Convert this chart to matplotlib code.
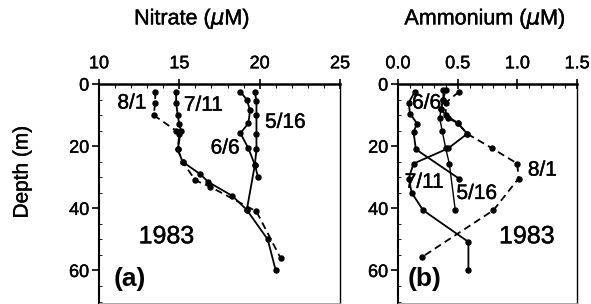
import matplotlib
matplotlib.use("Agg")
import matplotlib.pyplot as plt
import matplotlib.patheffects as pe
from matplotlib.ticker import MultipleLocator

plt.rcParams['font.family'] = ['Liberation Sans', 'DejaVu Sans']
# slight stroke so the text looks like the heavy scanned print
thick = [pe.withStroke(linewidth=0.3, foreground='black')]

# Nitrate profiles (uM) vs depth (m)
no3_516_x = [19.7, 19.8, 19.8, 19.8, 19.8, 19.7, 19.9]
no3_516_d = [2.5, 5.5, 10, 16, 21, 26, 30]
no3_66_x = [18.8, 19.2, 19.4, 19.3, 18.8, 19.3, 19.7, 19.2]
no3_66_d = [2.5, 5, 8.5, 12.6, 15.8, 20.7, 26, 40.5]
no3_711_x = [14.8, 14.8, 14.9, 15.0, 15.1, 14.9, 15.2, 16.3, 16.8, 18.3, 19.2, 20.5, 21.0]
no3_711_d = [2.5, 6, 10, 13, 15, 21, 25, 29, 31.5, 36, 40.5, 50, 60]
no3_81_x = [13.5, 13.5, 13.4, 14.8, 15.0, 14.9, 15.2, 16.0, 16.9, 19.8, 21.3]
no3_81_d = [2.5, 6, 10, 15, 16, 21, 25, 31, 33, 41, 56]

# Ammonium profiles (uM) vs depth (m)
nh4_516_x = [0.40, 0.38, 0.36, 0.35, 0.37, 0.40, 0.43, 0.48]
nh4_516_d = [2, 5, 8, 11, 15, 20.7, 25.6, 40.6]
nh4_66_x = [0.14, 0.09, 0.10, 0.16, 0.13, 0.15, 0.51]
nh4_66_d = [2.5, 6, 9.5, 12.7, 15.4, 21, 30.4]
nh4_711_x = [0.38, 0.38, 0.36, 0.42, 0.50, 0.58, 0.42, 0.13, 0.09, 0.115, 0.21, 0.59, 0.59]
nh4_711_d = [2, 5, 8, 11, 12.5, 16, 20.7, 25.6, 30.4, 35, 40.6, 50.8, 60]
nh4_81_x = [0.51, 0.40, 0.40, 0.50, 0.58, 0.79, 1.00, 1.01, 0.80, 0.20]
nh4_81_d = [2.5, 6, 10, 12.5, 16, 20.7, 25.6, 30.4, 40.6, 55.7]

fig = plt.figure(figsize=(5.91, 3.04), dpi=100)
ax1 = fig.add_axes([99 / 591, 0.003, 241 / 591, 219 / 304])
ax2 = fig.add_axes([398 / 591, 0.003, 179 / 591, 219 / 304])

line_kw = dict(color='black', lw=1.3, marker='o', ms=3.6)


def style(ax, xlim, major, minor):
    ax.set_xlim(*xlim)
    ax.set_ylim(70.5, 0)
    ax.xaxis.set_major_locator(MultipleLocator(major))
    ax.xaxis.set_minor_locator(MultipleLocator(minor))
    ax.yaxis.set_major_locator(MultipleLocator(20))
    ax.yaxis.set_minor_locator(MultipleLocator(5))
    ax.xaxis.tick_top()
    ax.tick_params(axis='x', which='major', direction='inout', length=7, width=1.2,
                   labelsize=13, pad=5)
    ax.tick_params(axis='x', which='minor', direction='in', length=3, width=0.8)
    ax.tick_params(axis='y', which='major', direction='out', length=5, width=1.2,
                   labelsize=13, pad=2)
    ax.tick_params(axis='y', which='minor', direction='in', length=2, width=0.6)
    for t in ax.get_xticklabels() + ax.get_yticklabels():
        t.set_path_effects(thick)
    ax.spines['top'].set_linewidth(1.8)
    ax.spines['left'].set_linewidth(1.5)
    ax.spines['right'].set_linewidth(1.0)
    ax.spines['bottom'].set_linewidth(0.6)
    ax.spines['bottom'].set_color('#999999')


ax1.plot(no3_516_x, no3_516_d, **line_kw)
ax1.plot(no3_66_x, no3_66_d, **line_kw)
ax1.plot(no3_711_x, no3_711_d, **line_kw)
ax1.plot(no3_81_x, no3_81_d, ls=(0, (4, 2.5)), **line_kw)
ax1.set_xticks([10, 15, 20, 25])
style(ax1, (10, 25), 5, 1)

ax2.plot(nh4_516_x, nh4_516_d, color='black', lw=1.0, marker='o', ms=3.6)
ax2.plot(nh4_66_x, nh4_66_d, **line_kw)
ax2.plot(nh4_711_x, nh4_711_d, **line_kw)
ax2.plot(nh4_81_x, nh4_81_d, ls=(0, (4, 2.5)), **line_kw)
ax2.set_xticks([0.0, 0.5, 1.0, 1.5])
ax2.set_xticklabels(['0.0', '0.5', '1.0', '1.5'])
style(ax2, (0, 1.5), 0.5, 0.1)

lab = dict(fontsize=15, ha='center', va='center', path_effects=thick)
big = dict(fontsize=18, ha='center', va='center', path_effects=thick)
pan = dict(fontsize=19, fontweight='bold', ha='center', va='center')

ax1.text(12.05, 6.1, '8/1', **lab)
ax1.text(16.5, 6.8, '7/11', **lab)
ax1.text(21.6, 12.3, '5/16', **lab)
ax1.text(17.85, 20.6, '6/6', **lab)
ax1.text(14.2, 49, '1983', **big)
ax1.text(11.9, 62.6, '(a)', **pan)

ax2.text(0.24, 6.1, '6/6', **lab)
ax2.text(1.21, 27.7, '8/1', **lab)
ax2.text(0.22, 31.6, '7/11', **lab)
ax2.text(0.66, 35.2, '5/16', **lab)
ax2.text(1.08, 49, '1983', **big)
ax2.text(0.22, 62.6, '(b)', **pan)

fig.text(192 / 591, 1 - 19 / 304, r'Nitrate ($\mu$M)', fontsize=15.5,
         ha='center', va='center', path_effects=thick)
fig.text(485 / 591, 1 - 19 / 304, r'Ammonium ($\mu$M)', fontsize=15.5,
         ha='center', va='center', path_effects=thick)
fig.text(22 / 591, 1 - 172 / 304, 'Depth (m)', fontsize=15, rotation=90,
         ha='center', va='center', path_effects=thick)

fig.savefig('out.png', dpi=100)
